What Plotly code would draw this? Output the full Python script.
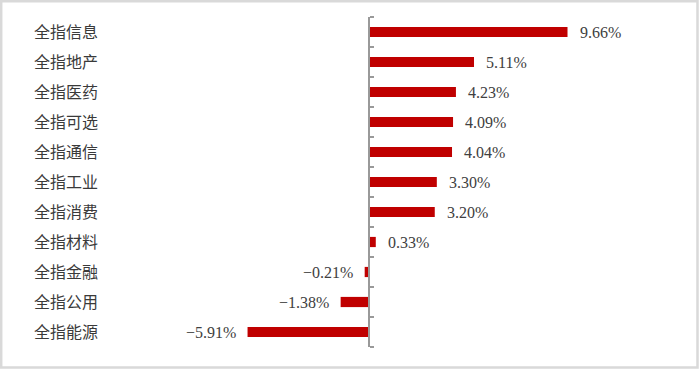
import plotly.graph_objects as go

categories = ["全指信息", "全指地产", "全指医药", "全指可选", "全指通信", "全指工业",
              "全指消费", "全指材料", "全指金融", "全指公用", "全指能源"]
values = [9.66, 5.11, 4.23, 4.09, 4.04, 3.30, 3.20, 0.33, -0.21, -1.38, -5.91]
value_labels = ["9.66%", "5.11%", "4.23%", "4.09%", "4.04%", "3.30%", "3.20%",
                "0.33%", "−0.21%", "−1.38%", "−5.91%"]

W, H = 700, 369
ML, MR, MT, MB = 110, 10, 17, 22
zero_px = 369
px_per_unit = 20.55
xmin = (ML - zero_px) / px_per_unit
xmax = (W - MR - zero_px) / px_per_unit
plot_w = W - ML - MR
plot_h = H - MT - MB

n = len(categories)
idx = list(range(n))

fig = go.Figure()
fig.add_trace(go.Bar(
    x=values, y=idx, orientation="h",
    marker=dict(color="#C00000", line=dict(width=0)),
    width=0.34, hoverinfo="skip",
))
# invisible trace to hold the boundary-tick axis
fig.add_trace(go.Scatter(x=[0], y=[0], yaxis="y2", mode="markers",
                         marker=dict(opacity=0), hoverinfo="skip", showlegend=False))

for i, (v, t) in enumerate(zip(values, value_labels)):
    fig.add_annotation(
        x=v, y=i, xref="x", yref="y", text=t, showarrow=False,
        xanchor="left" if v >= 0 else "right",
        xshift=10 if v >= 0 else -10,
        font=dict(family="Liberation Serif", size=16, color="#404040"),
    )

fig.add_shape(
    type="rect", xref="paper", yref="paper",
    x0=(1.2 - ML) / plot_w, x1=(W - 2.5 - ML) / plot_w,
    y0=-(MB - 1.5) / plot_h,
    y1=1 + (MT - 1.2) / plot_h,
    line=dict(color="#D9D9D9", width=2.5), layer="above",
)

fig.update_layout(
    width=W, height=H,
    margin=dict(l=ML, r=MR, t=MT, b=MB),
    paper_bgcolor="white", plot_bgcolor="white",
    showlegend=False,
    xaxis=dict(range=[xmin, xmax], showgrid=False, zeroline=False,
               showticklabels=False, showline=False, ticks=""),
    yaxis=dict(range=[n - 0.5, -0.5], tickmode="array", tickvals=idx,
               ticktext=categories, showgrid=False, zeroline=False,
               showline=False, ticks="", ticklabelstandoff=11,
               tickfont=dict(family="Noto Sans CJK SC", size=16, color="#3a3a3a")),
    yaxis2=dict(overlaying="y", anchor="free",
                position=(zero_px - ML) / plot_w, side="right",
                range=[n - 0.5, -0.5], tickmode="array",
                tickvals=[i - 0.5 for i in range(n + 1)],
                ticks="outside", ticklen=4, tickcolor="#999999", tickwidth=1.5,
                showticklabels=False, showgrid=False, zeroline=False,
                showline=True, linecolor="#999999", linewidth=1.5),
)

fig.write_html("out.html", config={"displayModeBar": False},
               post_script="document.body.style.margin='0px';document.body.style.overflow='hidden';")
